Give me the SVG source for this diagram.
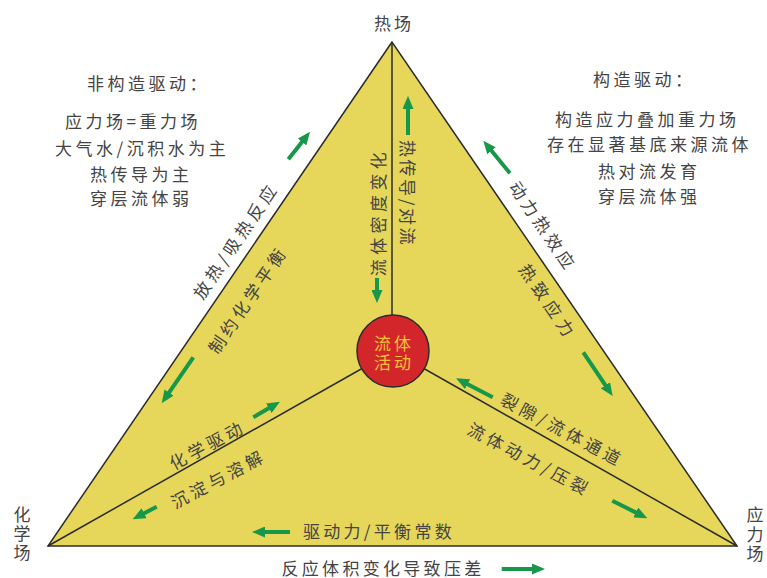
<svg xmlns="http://www.w3.org/2000/svg" width="767" height="578" viewBox="0 0 767 578">
<style>
text{font-family:"Noto Sans CJK SC","Noto Sans",sans-serif;font-size:17px;fill:#444444;dominant-baseline:central}
.m{text-anchor:middle}
.b{letter-spacing:3.5px}
.e{letter-spacing:4px;text-anchor:middle}
.arr{stroke:#16974a;stroke-width:4;fill:none;marker-end:url(#ah)}
.ln{stroke:#2b2b2b;stroke-width:1.5;fill:none}
</style>
<defs>
<marker id="ah" markerUnits="userSpaceOnUse" viewBox="0 0 13 11" markerWidth="13" markerHeight="11" refX="1" refY="5.5" orient="auto">
<path d="M0,0 L13,5.5 L0,11 z" fill="#16974a"/>
</marker>
</defs>
<rect width="767" height="578" fill="#ffffff"/>

<g id="triangle">
<polygon points="392,42 48,546 737,546" fill="#e6d65a" stroke="#2b2b2b" stroke-width="1.5" stroke-linejoin="miter"/>
</g>

<g id="connectors">
<line class="ln" x1="392" y1="42" x2="392" y2="320"/>
<line class="ln" x1="393" y1="351" x2="48" y2="546"/>
<line class="ln" x1="393" y1="351" x2="737" y2="546"/>
<line class="arr" x1="408" y1="135" x2="408" y2="108"/>
<line class="arr" x1="377" y1="278" x2="377" y2="291"/>
<line class="arr" x1="288.3" y1="159.3" x2="302.6" y2="141.2"/>
<line class="arr" x1="193.3" y1="357.3" x2="168.5" y2="393.4"/>
<line class="arr" x1="253.3" y1="417.3" x2="269.6" y2="407.8"/>
<line class="arr" x1="156.7" y1="506.7" x2="143.3" y2="513.7"/>
<line class="arr" x1="290" y1="532" x2="264" y2="532"/>
<line class="arr" x1="501.7" y1="569" x2="533" y2="569"/>
<line class="arr" x1="510" y1="173.3" x2="490.9" y2="150"/>
<line class="arr" x1="583.3" y1="352.3" x2="606" y2="386.1"/>
<line class="arr" x1="492.7" y1="397.3" x2="466.7" y2="383.8"/>
<line class="arr" x1="612.3" y1="500.7" x2="636.6" y2="512.9"/>
</g>

<g id="center">
<circle cx="393" cy="351" r="36" fill="#d3262a" stroke="#2b2b2b" stroke-width="1.5"/>
<text class="m" style="fill:#f3c13a;letter-spacing:3px"><tspan x="394" y="342">流体</tspan><tspan x="394" y="361">活动</tspan></text>
</g>

<g id="heat-field">
<text class="m" x="394" y="22" style="letter-spacing:3px">热场</text>
</g>

<g id="chem-field">
<text class="m"><tspan x="22" y="513">化</tspan><tspan x="22" y="532">学</tspan><tspan x="22" y="551">场</tspan></text>
</g>

<g id="stress-field">
<text class="m"><tspan x="755" y="513">应</tspan><tspan x="755" y="533">力</tspan><tspan x="755" y="552">场</tspan></text>
</g>

<g id="non-tectonic">
<text class="b" x="87" y="82">非构造驱动：</text>
<text class="b" x="65" y="120">应力场=重力场</text>
<text class="b" x="55" y="147">大气水/沉积水为主</text>
<text class="b" x="90" y="173">热传导为主</text>
<text class="b" x="90" y="197">穿层流体弱</text>
</g>

<g id="tectonic">
<text class="b" x="593" y="78">构造驱动：</text>
<text class="b" x="555" y="118">构造应力叠加重力场</text>
<text class="b" x="547" y="143">存在显著基底来源流体</text>
<text class="b" x="598" y="170">热对流发育</text>
<text class="b" x="598" y="195">穿层流体强</text>
</g>

<g id="labels">
<text class="e" transform="translate(235,240) rotate(-55.7)">放热/吸热反应</text>
<text class="e" transform="translate(247,299) rotate(-55.7)">制约化学平衡</text>
<text class="e" transform="translate(544,226) rotate(55.6)">动力热效应</text>
<text class="e" transform="translate(549,301.5) rotate(55.6)" style="letter-spacing:5px">热致应力</text>
<text class="m" transform="translate(408,193.5) rotate(90)" style="letter-spacing:2.6px">热传导/对流</text>
<text class="m" transform="translate(377,212) rotate(-90)" style="letter-spacing:4.4px">流体密度变化</text>
<text class="e" transform="translate(207,444) rotate(-28.1)">化学驱动</text>
<text class="e" transform="translate(218,478) rotate(-28.1)">沉淀与溶解</text>
<text class="e" transform="translate(563,429) rotate(27.9)">裂隙/流体通道</text>
<text class="e" transform="translate(530,458.5) rotate(27.9)">流体动力/压裂</text>
<text class="e" x="379" y="530" style="letter-spacing:3.3px">驱动力/平衡常数</text>
<text class="e" x="383" y="567" style="letter-spacing:3.3px">反应体积变化导致压差</text>
</g>
</svg>
